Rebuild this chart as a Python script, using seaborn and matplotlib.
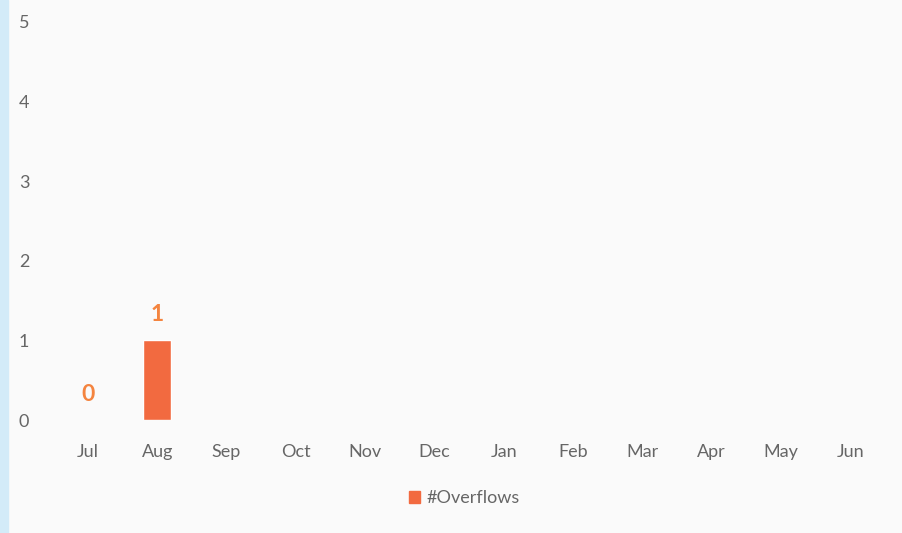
import numpy as np
import pandas as pd
import matplotlib
matplotlib.use("Agg")
import matplotlib.pyplot as plt
import seaborn as sns
from matplotlib.patches import Rectangle

months = ["Jul", "Aug", "Sep", "Oct", "Nov", "Dec", "Jan", "Feb", "Mar", "Apr", "May", "Jun"]
overflows = [0, 1, np.nan, np.nan, np.nan, np.nan, np.nan, np.nan, np.nan, np.nan, np.nan, np.nan]
y_ticks = [0, 1, 2, 3, 4, 5]

bar_color = "#F26A40"
label_color = "#F4843F"
text_color = "#666666"
bg = "#FAFAFA"

sns.set_style("white")
plt.rcParams["font.family"] = ["Lato", "DejaVu Sans"]

df = pd.DataFrame({"month": months, "overflows": overflows})

fig = plt.figure(figsize=(9.02, 5.33), dpi=100, facecolor=bg)
ax = fig.add_axes([0.059, 0.212, 0.922, 0.747])
ax.set_facecolor(bg)

sns.barplot(data=df, x="month", y="overflows", order=months, color=bar_color,
            width=0.4, saturation=1, ax=ax)

# data labels for the months that have values
for i, v in enumerate(overflows):
    if not np.isnan(v):
        ax.annotate(f"{int(v)}", (i, v), xytext=(0, 11), textcoords="offset points",
                    ha="center", va="bottom", fontsize=16.5, fontweight="bold",
                    color=label_color)

ax.set_ylim(0, 5)
ax.set_xlim(-0.5, len(months) - 0.5)
ax.set_yticks(y_ticks)
ax.set_xlabel("")
ax.set_ylabel("")
for s in ax.spines.values():
    s.set_visible(False)
ax.tick_params(axis="both", length=0, colors=text_color, labelsize=13)
ax.tick_params(axis="x", pad=17)
ax.tick_params(axis="y", pad=21)
for t in ax.get_yticklabels():
    t.set_horizontalalignment("center")

handle = Rectangle((0, 0), 1, 1, color=bar_color)
fig.legend([handle], ["#Overflows"], loc="center", bbox_to_anchor=(0.515, 0.065),
           frameon=False, fontsize=13, labelcolor=text_color,
           handlelength=0.6, handleheight=0.6, handletextpad=0.4)

# light blue strip on left edge
fig.patches.append(Rectangle((0, 0), 0.009, 1, transform=fig.transFigure,
                             color="#D3EBF8", zorder=10))

fig.savefig("out.png", dpi=100, facecolor=bg)
